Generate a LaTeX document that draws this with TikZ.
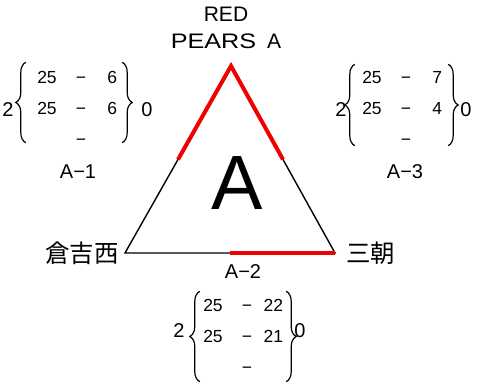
\documentclass[tikz,border=0pt]{standalone}
\usepackage{fontspec}
\setmainfont{Liberation Sans}
\newfontfamily\jpfont{Noto Sans CJK JP}
\usepackage{array}
\usetikzlibrary{positioning, calc, decorations.pathreplacing}
\definecolor{pearred}{RGB}{240,0,0}
\newcolumntype{Z}{@{}w{c}{20pt}@{\hspace{19pt}}w{c}{10pt}@{\hspace{13pt}}w{r}{18pt}@{}}

\begin{document}
\begin{tikzpicture}[x=1pt, y=1pt,
    side/.style={line width=1.4pt, black, line join=miter},
    hot/.style={line width=4pt, pearred, line join=miter},
    lbl/.style={font=\fontsize{20}{24}\selectfont, inner sep=0pt},
    jp/.style={font=\jpfont\fontsize{24.5}{26}\selectfont, inner sep=0pt},
    grid/.style={inner sep=0pt, font=\fontsize{17.5}{31}\selectfont},
    curly/.style={decorate, decoration={brace, amplitude=10pt}, line width=1.2pt},
]
    \useasboundingbox (0,0) rectangle (480,385);

    % triangle
    \coordinate (top) at (231,319);
    \coordinate (west) at (125,132);
    \coordinate (east) at (335,132);
    \draw[side] (top) -- (west) -- (east) -- cycle;
    \draw[hot] ($(top)!0.5!(west)$) -- (top) -- ($(top)!0.5!(east)$);
    \draw[hot] ($(west)!0.5!(east)$) -- (east);

    \node[font=\fontsize{77}{80}\selectfont, inner sep=0pt] (big) at (237,202) {A};
    \node[lbl, align=center, font=\fontsize{21}{27}\selectfont] (name) at (226,357)
        {RED\\{\addfontfeature{FakeStretch=1.2}PEARS}\hspace{11pt}A};
    \node[jp, left=6pt of west] (kura) {倉吉西};
    \node[jp, right=11pt of east] (misa) {三朝};

    % score groups
    \node[grid] (a1) at (77,277) {\begin{tabular}{Z}25 & − & 6\\ 25 & − & 6\\ & − & \end{tabular}};
    \node[grid] (a3) at (402,277) {\begin{tabular}{Z}25 & − & 7\\ 25 & − & 4\\ & − & \end{tabular}};
    \node[grid] (a2) at (243,49) {\begin{tabular}{Z}25 & − & 22\\ 25 & − & 21\\ & − & \end{tabular}};

    \draw[curly] ([shift={(-11pt,12pt)}]a1.south west) -- ([shift={(-11pt,-1pt)}]a1.north west);
    \draw[curly] ([shift={(5pt,-1pt)}]a1.north east) -- ([shift={(5pt,12pt)}]a1.south east);
    \draw[curly] ([shift={(-7pt,9pt)}]a3.south west) -- ([shift={(-7pt,-3pt)}]a3.north west);
    \draw[curly] ([shift={(6pt,-3pt)}]a3.north east) -- ([shift={(6pt,9pt)}]a3.south east);
    \draw[curly] ([shift={(-3pt,1pt)}]a2.south west) -- ([shift={(-3pt,-2pt)}]a2.north west);
    \draw[curly] ([shift={(3pt,-2pt)}]a2.north east) -- ([shift={(3pt,1pt)}]a2.south east);

    \node[lbl] (a1l) at (8,275) {2};
    \node[lbl] (a1r) at (147,275) {0};
    \node[lbl] (a3l) at (341,275) {2};
    \node[lbl] (a3r) at (466,275) {0};
    \node[lbl] (a2l) at (179,54) {2};
    \node[lbl] (a2r) at (300,54) {0};

    \node[lbl] (t1) at (78,213) {A−1};
    \node[lbl] (t3) at (405,213) {A−3};
    \node[lbl] (t2) at (243,113) {A−2};
\end{tikzpicture}
\end{document}
